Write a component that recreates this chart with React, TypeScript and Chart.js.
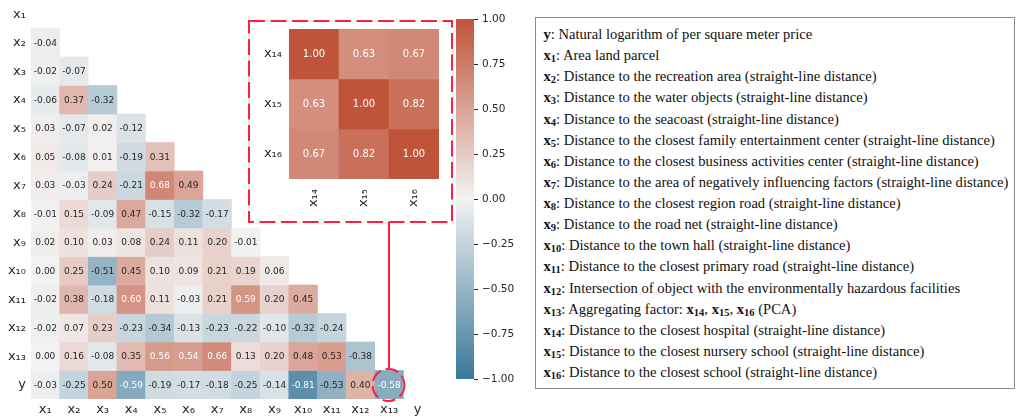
import React, { useEffect, useRef } from "react";
import { Chart, registerables } from "chart.js";

Chart.register(...registerables);

// ---------- data ----------
const mainLabels = ["x₁", "x₂", "x₃", "x₄", "x₅", "x₆", "x₇", "x₈", "x₉", "x₁₀", "x₁₁", "x₁₂", "x₁₃", "y"];

const rowX1: number[] = [];
const rowX2 = [-0.04];
const rowX3 = [-0.02, -0.07];
const rowX4 = [-0.06, 0.37, -0.32];
const rowX5 = [0.03, -0.07, 0.02, -0.12];
const rowX6 = [0.05, -0.08, 0.01, -0.19, 0.31];
const rowX7 = [0.03, -0.03, 0.24, -0.21, 0.68, 0.49];
const rowX8 = [-0.01, 0.15, -0.09, 0.47, -0.15, -0.32, -0.17];
const rowX9 = [0.02, 0.1, 0.03, 0.08, 0.24, 0.11, 0.2, -0.01];
const rowX10 = [0.0, 0.25, -0.51, 0.45, 0.1, 0.09, 0.21, 0.19, 0.06];
const rowX11 = [-0.02, 0.38, -0.18, 0.6, 0.11, -0.03, 0.21, 0.59, 0.2, 0.45];
const rowX12 = [-0.02, 0.07, 0.23, -0.23, -0.34, -0.13, -0.23, -0.22, -0.1, -0.32, -0.24];
const rowX13 = [0.0, 0.16, -0.08, 0.35, 0.56, 0.54, 0.66, 0.13, 0.2, 0.48, 0.53, -0.38];
const rowY = [-0.03, -0.25, 0.5, -0.59, -0.19, -0.17, -0.18, -0.25, -0.14, -0.81, -0.53, 0.4, -0.58];

const mainRows = [rowX1, rowX2, rowX3, rowX4, rowX5, rowX6, rowX7, rowX8, rowX9, rowX10, rowX11, rowX12, rowX13, rowY];

const insetLabels = ["x₁₄", "x₁₅", "x₁₆"];
const insetX14 = [1.0, 0.63, 0.67];
const insetX15 = [0.63, 1.0, 0.82];
const insetX16 = [0.67, 0.82, 1.0];
const insetRows = [insetX14, insetX15, insetX16];

const cbarTicks = [-1, -0.75, -0.5, -0.25, 0, 0.25, 0.5, 0.75, 1];

// ---------- colour map ----------
const NEG = [59, 120, 153];
const MID = [242, 242, 242];
const POS = [192, 84, 58];

function cmap(v: number): string {
  const t = Math.max(-1, Math.min(1, v));
  const end = t < 0 ? NEG : POS;
  const f = Math.abs(t);
  const c = MID.map((m, i) => Math.round(m + (end[i] - m) * f));
  return `rgb(${c[0]},${c[1]},${c[2]})`;
}

const TEXT = "#262626";
const FONT = "'DejaVu Sans', sans-serif";

type HeatOpts = {
  yAxisWidth: number;
  xAxisHeight: number;
  padTop: number;
  annotSize: number;
  tickSize: number;
  rotate: number;
  xPad: number;
  yPad: number;
};

function makeHeatmap(canvas: HTMLCanvasElement, rows: number[][], labels: string[], o: HeatOpts) {
  const datasets = rows.map((vals, r) => ({
    data: labels.map((_, c) => (c < vals.length ? [r, r + 1] : null)),
    backgroundColor: labels.map((_, c) => (c < vals.length ? cmap(vals[c]) : "rgba(0,0,0,0)")),
    borderWidth: 0,
    grouped: false,
    barPercentage: 1,
    categoryPercentage: 1,
  }));

  const annotate = {
    id: "annotate",
    afterDatasetsDraw(chart: any) {
      const ctx = chart.ctx;
      ctx.save();
      ctx.font = `${o.annotSize}px ${FONT}`;
      ctx.textAlign = "center";
      ctx.textBaseline = "middle";
      rows.forEach((vals, r) => {
        const meta = chart.getDatasetMeta(r);
        meta.data.forEach((el: any, c: number) => {
          if (c >= vals.length) return;
          const v = vals[c];
          const p = el.getProps(["x", "y", "base"], true);
          ctx.fillStyle = Math.abs(v) >= 0.54 ? "#ffffff" : TEXT;
          ctx.fillText(v.toFixed(2), p.x, (p.y + p.base) / 2 + 0.5);
        });
      });
      ctx.restore();
    },
  };

  return new Chart(canvas, {
    type: "bar",
    data: { labels, datasets: datasets as any },
    options: {
      animation: false,
      responsive: false,
      maintainAspectRatio: false,
      layout: { padding: { top: o.padTop, left: 0, right: 0, bottom: 0 } },
      plugins: { legend: { display: false }, tooltip: { enabled: false } },
      scales: {
        x: {
          type: "category",
          offset: true,
          grid: { display: false, drawTicks: false },
          border: { display: false },
          ticks: {
            color: TEXT,
            font: { family: FONT, size: o.tickSize },
            padding: o.xPad,
            autoSkip: false,
            maxRotation: o.rotate,
            minRotation: o.rotate,
          },
          afterFit: (s: any) => {
            s.height = o.xAxisHeight;
            s.paddingLeft = 0;
            s.paddingRight = 0;
          },
        },
        y: {
          type: "linear",
          reverse: true,
          min: 0,
          max: rows.length,
          grid: { display: false, drawTicks: false },
          border: { display: false },
          afterBuildTicks: (s: any) => {
            s.ticks = labels.map((_, i) => ({ value: i + 0.5 }));
          },
          ticks: {
            color: TEXT,
            font: { family: FONT, size: o.tickSize },
            padding: o.yPad,
            autoSkip: false,
            callback: (v: any) => labels[Math.floor(Number(v))],
          },
          afterFit: (s: any) => {
            s.width = o.yAxisWidth;
            s.paddingTop = 0;
            s.paddingBottom = 0;
          },
        },
      },
    } as any,
    plugins: [annotate],
  });
}

function makeColorbar(canvas: HTMLCanvasElement) {
  const gradientPlugin = {
    id: "gradient",
    beforeDatasetsDraw(chart: any) {
      const { ctx, chartArea } = chart;
      const ys = chart.scales.y;
      const yTop = ys.getPixelForValue(1);
      const yBot = ys.getPixelForValue(-1);
      const g = ctx.createLinearGradient(0, yTop, 0, yBot);
      for (let i = 0; i <= 40; i++) {
        const v = 1 - (2 * i) / 40;
        g.addColorStop(i / 40, cmap(v));
      }
      ctx.save();
      ctx.fillStyle = g;
      ctx.fillRect(chartArea.left, yTop, chartArea.right - chartArea.left, yBot - yTop);
      ctx.restore();
    },
  };
  return new Chart(canvas, {
    type: "scatter",
    data: { datasets: [] },
    options: {
      animation: false,
      responsive: false,
      maintainAspectRatio: false,
      layout: { padding: { top: 19, bottom: 40, left: 0, right: 0 } },
      plugins: { legend: { display: false }, tooltip: { enabled: false } },
      scales: {
        x: { display: false, min: 0, max: 1 },
        y: {
          type: "linear",
          position: "right",
          min: -1,
          max: 1,
          border: { display: false },
          grid: { display: true, drawOnChartArea: false, drawTicks: true, tickLength: 4, color: TEXT, lineWidth: 1 },
          afterBuildTicks: (s: any) => {
            s.ticks = cbarTicks.map((v) => ({ value: v }));
          },
          ticks: {
            color: TEXT,
            font: { family: FONT, size: 10.5 },
            padding: 4,
            callback: (v: any) => {
              const n = Number(v);
              if (Math.abs(n) < 1e-9) return "0.00";
              return n < 0 ? "\u2212" + Math.abs(n).toFixed(2) : n.toFixed(2);
            },
          },
          afterFit: (s: any) => {
            s.width = 62;
            s.paddingTop = 0;
            s.paddingBottom = 0;
          },
        },
      },
    } as any,
    plugins: [gradientPlugin],
  });
}

// ---------- legend text ----------
type LegendItem = { sym: string; sub: string; text: string };
const legendItems: LegendItem[] = [
  { sym: "y", sub: "", text: "Natural logarithm of per square meter price" },
  { sym: "x", sub: "1", text: "Area land parcel" },
  { sym: "x", sub: "2", text: "Distance to the recreation area (straight-line distance)" },
  { sym: "x", sub: "3", text: "Distance to the water objects (straight-line distance)" },
  { sym: "x", sub: "4", text: "Distance to the seacoast (straight-line distance)" },
  { sym: "x", sub: "5", text: "Distance to the closest family entertainment center (straight-line distance)" },
  { sym: "x", sub: "6", text: "Distance to the closest business activities center (straight-line distance)" },
  { sym: "x", sub: "7", text: "Distance to the area of negatively influencing factors (straight-line distance)" },
  { sym: "x", sub: "8", text: "Distance to the closest region road (straight-line distance)" },
  { sym: "x", sub: "9", text: "Distance to the road net (straight-line distance)" },
  { sym: "x", sub: "10", text: "Distance to the town hall (straight-line distance)" },
  { sym: "x", sub: "11", text: "Distance to the closest primary road (straight-line distance)" },
  { sym: "x", sub: "12", text: "Intersection of object with the environmentally hazardous facilities" },
  { sym: "x", sub: "13", text: "Aggregating factor: " },
  { sym: "x", sub: "14", text: "Distance to the closest hospital (straight-line distance)" },
  { sym: "x", sub: "15", text: "Distance to the closest nursery school (straight-line distance)" },
  { sym: "x", sub: "16", text: "Distance to the closest school (straight-line distance)" },
];

const subStyle: React.CSSProperties = { fontSize: "0.72em", verticalAlign: "-0.22em", lineHeight: 0 };

function Sym({ sym, sub }: { sym: string; sub: string }) {
  return (
    <b>
      {sym}
      {sub ? <span style={subStyle}>{sub}</span> : null}
    </b>
  );
}

function Legend() {
  return (
    <div
      style={{
        position: "absolute",
        left: 535,
        top: 17,
        width: 480,
        height: 372,
        boxSizing: "border-box",
        border: "1.5px solid #8a8a8a",
        padding: "6px 0 0 7.5px",
        fontFamily: "'Liberation Serif', 'Times New Roman', serif",
        fontSize: 14.6,
        lineHeight: "21.125px",
        color: "#111",
        whiteSpace: "nowrap",
        background: "#fff",
      }}
    >
      {legendItems.map((it, i) => (
        <div key={i}>
          <Sym sym={it.sym} sub={it.sub} />: {it.text}
          {it.sub === "13" ? (
            <>
              <Sym sym="x" sub="14" />, <Sym sym="x" sub="15" />, <Sym sym="x" sub="16" /> (PCA)
            </>
          ) : null}
        </div>
      ))}
    </div>
  );
}

export default function App() {
  const mainRef = useRef<HTMLCanvasElement>(null);
  const insetRef = useRef<HTMLCanvasElement>(null);
  const cbarRef = useRef<HTMLCanvasElement>(null);

  useEffect(() => {
    document.body.style.margin = "0";
    const charts: Chart[] = [];
    if (mainRef.current)
      charts.push(
        makeHeatmap(mainRef.current, mainRows, mainLabels, {
          yAxisWidth: 31,
          xAxisHeight: 20,
          padTop: 0,
          annotSize: 9,
          tickSize: 13,
          rotate: 0,
          xPad: 3,
          yPad: 5,
        })
      );
    if (insetRef.current)
      charts.push(
        makeHeatmap(insetRef.current, insetRows, insetLabels, {
          yAxisWidth: 39,
          xAxisHeight: 36,
          padTop: 4,
          annotSize: 10,
          tickSize: 13,
          rotate: 90,
          xPad: 10,
          yPad: 7,
        })
      );
    if (cbarRef.current) charts.push(makeColorbar(cbarRef.current));
    return () => charts.forEach((c) => c.destroy());
  }, []);

  const red = "#ff2040";
  return (
    <div style={{ position: "fixed", left: 0, top: 0, width: 1016, height: 419, background: "#fff", overflow: "hidden" }}>
      <canvas ref={mainRef} width={432} height={419} style={{ position: "absolute", left: 0, top: 0, width: 432, height: 419 }} />
      <canvas ref={insetRef} width={189} height={190} style={{ position: "absolute", left: 250, top: 25, width: 189, height: 190 }} />
      <canvas ref={cbarRef} width={80} height={419} style={{ position: "absolute", left: 456, top: 0, width: 80, height: 419 }} />
      <Legend />
      <svg width={1016} height={419} style={{ position: "absolute", left: 0, top: 0, pointerEvents: "none" }}>
        <rect x={249} y={21} width={203} height={201} fill="none" stroke={red} strokeWidth={2} strokeDasharray="16 5.5" />
        <line x1={389} y1={222} x2={389} y2={369} stroke={red} strokeWidth={2} />
        <circle cx={388.5} cy={385} r={16} fill="none" stroke={red} strokeWidth={2} strokeDasharray="13 5" />
      </svg>
    </div>
  );
}
